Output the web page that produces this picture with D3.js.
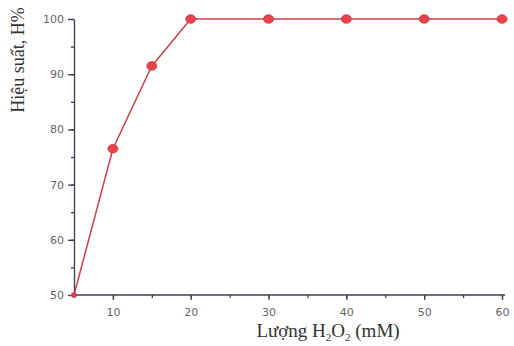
<html>
<head>
<style>
  body { margin: 0; background: #fff; }
  svg { display: block; }
</style>
</head>
<body>
<svg id="chart" width="514" height="346"></svg>
<script src="https://d3js.org/d3.v7.js"></script>
<script>
var amounts = [5, 10, 15, 20, 30, 40, 50, 60];
var yields = [50, 76.5, 91.5, 100, 100, 100, 100, 100];
var xTicks = [10, 20, 30, 40, 50, 60];
var yTicks = [50, 60, 70, 80, 90, 100];

var svg = d3.select("#chart");

var x = d3.scaleLinear().domain([5, 60]).range([74, 502]);
var y = d3.scaleLinear().domain([50, 100]).range([295, 19]);

var axisColor = "#3a3f55";

// minor ticks
var xAxis = svg.append("g")
  .attr("transform", "translate(0," + y(50) + ")")
  .call(d3.axisBottom(x).tickValues(d3.range(5, 61, 5)).tickSize(3).tickFormat(""));
xAxis.select(".domain").remove();
var yAxisMinor = svg.append("g")
  .attr("transform", "translate(" + x(5) + ",0)")
  .call(d3.axisLeft(y).tickValues(d3.range(50, 101, 5)).tickSize(3).tickFormat(""));
yAxisMinor.select(".domain").remove();

// major ticks
var xMajor = svg.append("g")
  .attr("transform", "translate(0," + y(50) + ")")
  .call(d3.axisBottom(x).tickValues(xTicks).tickSize(5).tickSizeOuter(0).tickPadding(8));
xMajor.select(".domain").attr("d", "M" + x(5) + ",0H505");
var yMajor = svg.append("g")
  .attr("transform", "translate(" + x(5) + ",0)")
  .call(d3.axisLeft(y).tickValues(yTicks).tickSize(6).tickSizeOuter(0).tickPadding(4));

svg.selectAll(".domain, .tick line")
  .attr("stroke", axisColor)
  .attr("stroke-width", 1.3);
svg.selectAll(".tick text")
  .attr("fill", "#666")
  .style("font-family", "'DejaVu Sans', sans-serif")
  .style("font-size", "11px");

// line
var line = d3.line()
  .x(function(d, i) { return x(amounts[i]); })
  .y(function(d) { return y(d); });

svg.append("path")
  .datum(yields)
  .attr("d", line)
  .attr("fill", "none")
  .attr("stroke", "#c8434a")
  .attr("stroke-width", 1.5);

svg.selectAll("ellipse")
  .data(yields)
  .enter()
  .append("ellipse")
  .attr("cx", function(d, i) { return x(amounts[i]); })
  .attr("cy", function(d) { return y(d); })
  .attr("rx", function(d, i) { return i == 0 ? 2.5 : 5; })
  .attr("ry", function(d, i) { return i == 0 ? 2.5 : 4.3; })
  .attr("fill", "#e8424c")
  .attr("stroke", "#d0393f")
  .attr("stroke-width", 0.8);

// axis titles
var xTitle = svg.append("text")
  .attr("x", 328)
  .attr("y", 337)
  .attr("text-anchor", "middle")
  .attr("fill", "#333")
  .style("font-family", "'Liberation Serif', serif")
  .style("font-size", "19px");
xTitle.append("tspan").text("Lượng H");
xTitle.append("tspan").text("2").attr("font-size", "11px").attr("dy", 4);
xTitle.append("tspan").text("O").attr("dy", -4);
xTitle.append("tspan").text("2").attr("font-size", "11px").attr("dy", 4);
xTitle.append("tspan").text(" (mM)").attr("dy", -4);

svg.append("text")
  .attr("transform", "translate(24,60) rotate(-90)")
  .attr("text-anchor", "middle")
  .attr("fill", "#333")
  .style("font-family", "'Liberation Serif', serif")
  .style("font-size", "18px")
  .text("Hiệu suất, H%");
</script>
</body>
</html>
